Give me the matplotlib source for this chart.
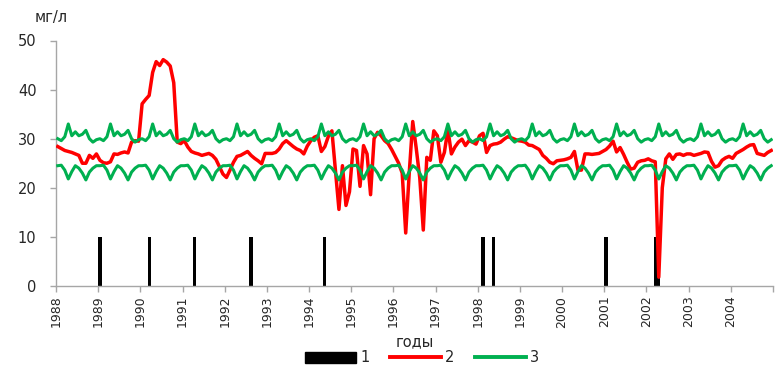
import numpy as np
import matplotlib
matplotlib.use("Agg")
import matplotlib.pyplot as plt
from matplotlib.patches import Patch
from matplotlib.lines import Line2D

# ---- data -------------------------------------------------------------
years = list(range(1988, 2005))
year_labels = [str(y) for y in years]

# series 2: monthly concentration, mg/l, Jan 1988 .. Dec 2004
conc_1988 = [28.4, 28.0, 27.6, 27.4, 27.2, 26.9, 26.6, 25.0, 25.0, 26.6, 26.0, 26.9]
conc_1989 = [25.6, 25.1, 25.0, 25.3, 26.9, 26.8, 27.1, 27.3, 27.1, 29.3, 29.6, 29.5]
conc_1990 = [37.1, 38.0, 38.8, 43.5, 45.7, 44.9, 46.1, 45.6, 44.8, 41.4, 29.3, 29.0]
conc_1991 = [29.6, 28.3, 27.4, 27.1, 26.9, 26.6, 26.8, 27.0, 26.6, 25.8, 24.3, 22.8]
conc_1992 = [22.1, 23.6, 25.2, 26.4, 26.6, 27.0, 27.4, 26.6, 26.0, 25.5, 24.9, 27.0]
conc_1993 = [27.0, 27.0, 27.2, 27.9, 29.0, 29.6, 29.0, 28.4, 27.9, 27.6, 26.9, 28.5]
conc_1994 = [29.6, 30.3, 30.6, 27.4, 28.4, 30.5, 31.6, 23.5, 15.6, 24.5, 16.4, 19.2]
conc_1995 = [27.9, 27.6, 20.3, 28.6, 26.9, 18.6, 30.0, 31.3, 30.6, 29.6, 29.0, 27.8]
conc_1996 = [26.4, 25.0, 23.0, 10.8, 23.0, 33.5, 28.0, 22.0, 11.4, 26.2, 25.6, 31.6]
conc_1997 = [30.6, 25.2, 27.2, 31.9, 26.9, 28.3, 29.3, 29.9, 28.6, 29.6, 29.3, 28.9]
conc_1998 = [30.6, 31.1, 27.2, 28.6, 28.9, 29.0, 29.3, 29.9, 30.4, 30.2, 29.9, 29.6]
conc_1999 = [29.5, 29.3, 28.7, 28.6, 28.2, 27.8, 26.6, 26.0, 25.2, 24.9, 25.5, 25.6]
conc_2000 = [25.7, 25.9, 26.2, 27.4, 23.6, 23.6, 26.9, 26.9, 26.8, 26.9, 27.0, 27.4]
conc_2001 = [27.8, 28.5, 29.5, 27.3, 28.2, 26.8, 25.2, 23.8, 24.0, 25.2, 25.5, 25.6]
conc_2002 = [25.9, 25.5, 25.3, 1.8, 20.0, 25.9, 26.9, 25.8, 26.8, 26.9, 26.6, 26.9]
conc_2003 = [26.9, 26.6, 26.8, 27.0, 27.3, 27.2, 25.4, 24.2, 24.5, 25.6, 26.1, 26.4]
conc_2004 = [26.0, 27.0, 27.4, 27.8, 28.3, 28.7, 28.8, 27.0, 26.8, 26.6, 27.2, 27.6]

# series 3: upper and lower bounds, same monthly values every year
bound_upper_month = [30.0, 29.6, 30.4, 33.0, 30.6, 31.4, 30.6, 30.9, 31.7, 30.0, 29.3, 29.8]
bound_lower_month = [24.5, 24.6, 23.6, 21.8, 23.3, 24.5, 24.0, 23.0, 21.6, 23.2, 24.0, 24.5]

# series 1: months (index from Jan 1988) with an event, bar height
event_months = [12, 26, 39, 55, 76, 121, 124, 156, 170, 171]
event_value = 10

# ---- assemble ---------------------------------------------------------
conc = np.concatenate([conc_1988, conc_1989, conc_1990, conc_1991, conc_1992,
                       conc_1993, conc_1994, conc_1995, conc_1996, conc_1997,
                       conc_1998, conc_1999, conc_2000, conc_2001, conc_2002,
                       conc_2003, conc_2004])
n_months = len(conc)
bound_upper = np.tile(bound_upper_month, len(years))
bound_lower = np.tile(bound_lower_month, len(years))
xm = np.arange(n_months) + 0.5          # each month centred in its slot

RED = "#FF0000"
GREEN = "#00B050"
AXIS = "#A6A6A6"
TEXT = "#262626"
W, H = 775, 369

plt.rcParams["font.family"] = ["DejaVu Sans"]

fig = plt.figure(figsize=(W / 100, H / 100), dpi=100)
ax = fig.add_axes([56 / W, 1 - 286 / H, (773 - 56) / W, (286 - 40.5) / H])

ax.bar(np.array(event_months) + 0.5, [event_value] * len(event_months),
       width=0.9, color="black", zorder=2)
ax.plot(xm, conc, color=RED, lw=2.5, zorder=3, solid_joinstyle="round")
ax.plot(xm, bound_upper, color=GREEN, lw=2.2, zorder=4, solid_joinstyle="round")
ax.plot(xm, bound_lower, color=GREEN, lw=2.2, zorder=4, solid_joinstyle="round")

ax.set_xlim(0, n_months)
ax.set_ylim(0, 50)
ax.set_xticks(np.arange(0, n_months + 1, 12))
ax.set_xticklabels(year_labels + [""], rotation=90, fontsize=9, color=TEXT)
ax.set_yticks(range(0, 51, 10))
ax.set_yticklabels([str(v) for v in range(0, 51, 10)], fontsize=10.5, color=TEXT)

for side in ("top", "right"):
    ax.spines[side].set_visible(False)
for side in ("left", "bottom"):
    ax.spines[side].set_color(AXIS)
    ax.spines[side].set_linewidth(1.0)
ax.tick_params(axis="both", direction="out", length=4, width=1.0, color=AXIS)
ax.tick_params(axis="y", pad=10)
ax.tick_params(axis="x", pad=3)

fig.text(51 / W, 1 - 17.5 / H, "мг/л", ha="center", va="center",
         fontsize=10.5, color=TEXT)
fig.text(415 / W, 1 - 342 / H, "годы", ha="center", va="center",
         fontsize=10.5, color=TEXT)

handles = [Patch(facecolor="black", edgecolor="black"),
           Line2D([], [], color=RED, lw=2.8),
           Line2D([], [], color=GREEN, lw=2.8)]
fig.legend(handles, ["1", "2", "3"], loc="center",
           bbox_to_anchor=(422 / W, 1 - 358 / H), ncol=3, frameon=False,
           fontsize=10.5, handlelength=3.5, handleheight=0.7,
           handletextpad=0.3, columnspacing=1.4, labelcolor=TEXT)

fig.savefig("out.png", dpi=100)
